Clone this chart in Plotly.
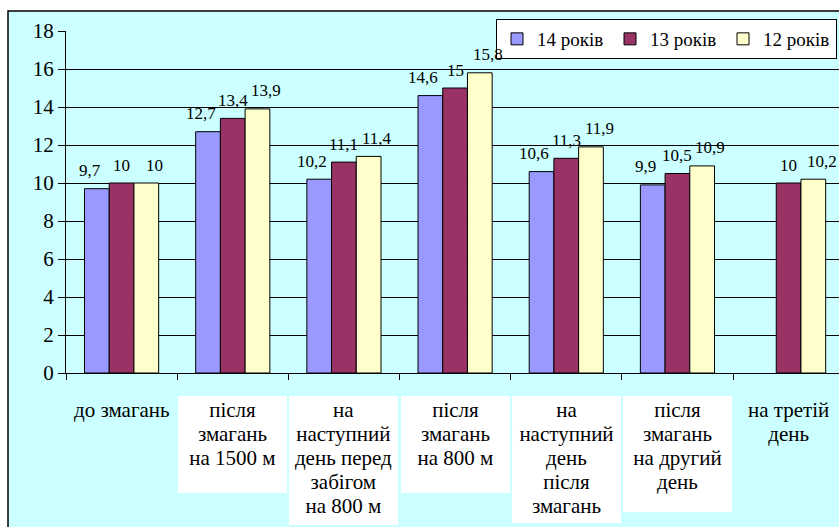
import plotly.graph_objects as go

# ---- data ----
categories = [
    "до змагань",
    "після<br>змагань<br>на 1500 м",
    "на<br>наступний<br>день перед<br>забігом<br>на 800 м",
    "після<br>змагань<br>на 800 м",
    "на<br>наступний<br>день<br>після<br>змагань",
    "після<br>змагань<br>на другий<br>день",
    "на третій<br>день",
]
series_names = ["14 років", "13 років", "12 років"]
s14 = [9.7, 12.7, 10.2, 14.6, 10.6, 9.9, None]
s13 = [10, 13.4, 11.1, 15, 11.3, 10.5, 10]
s12 = [10, 13.9, 11.4, 15.8, 11.9, 10.9, 10.2]
y_ticks = [0, 2, 4, 6, 8, 10, 12, 14, 16, 18]

# ---- style ----
colors = ["#9999FF", "#993366", "#FFFFCC"]
label_xshift = [-32, 0, 33]
box_heights = [None, 93, 125, 93, 123, 112, None]
box_bg = [None, "white", "white", "white", "white", "white", None]
FONT = "Liberation Serif"

W, H = 839, 527
ML, MR, MT, MB = 66, 0, 31, 154
pw, ph = W - ML - MR, H - MT - MB


def px_x(p):
    return (p - ML) / pw


def px_y(p):
    return (H - MB - p) / ph


def fmt(v):
    s = ("%g" % v)
    return s.replace(".", ",")


fig = go.Figure()
all_series = [s14, s13, s12]
for name, vals, col in zip(series_names, all_series, colors):
    fig.add_trace(go.Bar(
        x=categories, y=vals, name=name,
        marker=dict(color=col, line=dict(color="black", width=1)),
    ))

annotations = []
for vals, xs in zip(all_series, label_xshift):
    for c, v in zip(categories, vals):
        if v is None:
            continue
        annotations.append(dict(
            x=c, y=v, xref="x", yref="y", text=fmt(v), showarrow=False,
            xshift=xs, yshift=18, yanchor="middle",
            font=dict(family=FONT, size=17, color="black"),
        ))

for c, h, bg in zip(categories, box_heights, box_bg):
    lines = c.split("<br>")
    txt = "<br>".join('<span style="font-size:21px">%s</span>' % ln for ln in lines)
    a = dict(
        x=c, y=px_y(396), xref="x", yref="paper", text=txt, showarrow=False,
        yanchor="top", xanchor="center", align="center", valign="top",
        font=dict(family=FONT, size=18.5, color="black"),
        borderpad=2, borderwidth=0,
    )
    if bg:
        a.update(bgcolor=bg, width=105, height=h)
    annotations.append(a)

shapes = [dict(
    type="rect", xref="paper", yref="paper", layer="below",
    x0=px_x(8), x1=px_x(850), y0=px_y(540), y1=px_y(11),
    fillcolor="#CCFFFF", line=dict(color="black", width=1.5),
)]

fig.update_layout(
    width=W, height=H,
    margin=dict(l=ML, r=MR, t=MT, b=MB, pad=0),
    paper_bgcolor="white", plot_bgcolor="#C0C0C0",
    barmode="group", bargap=0.333, bargroupgap=0,
    font=dict(family=FONT, size=19, color="black"),
    showlegend=True,
    legend=dict(
        orientation="h", x=px_x(837), xanchor="right", y=px_y(19), yanchor="top",
        bgcolor="white", bordercolor="black", borderwidth=1,
        font=dict(family=FONT, size=19, color="black"),
        entrywidth=68, entrywidthmode="pixels",
    ),
    annotations=annotations, shapes=shapes,
)
fig.update_xaxes(
    type="category", range=[-0.5, -0.5 + pw / 111.17],
    showticklabels=False, ticks="outside", tickson="boundaries",
    ticklen=6, tickcolor="black", showline=True, linecolor="black",
    linewidth=1, showgrid=False, fixedrange=True,
)
fig.update_yaxes(
    range=[0, 18], tickvals=y_ticks, ticks="outside", ticklen=7,
    tickcolor="black", showline=True, linecolor="black", linewidth=1,
    showgrid=True, gridcolor="black", gridwidth=1, zeroline=False,
    tickfont=dict(family=FONT, size=21, color="black"), fixedrange=True,
)

fig.write_html(
    "out.html",
    config={"displayModeBar": False},
    post_script="document.body.style.margin='0';document.body.style.overflow='hidden';",
)
